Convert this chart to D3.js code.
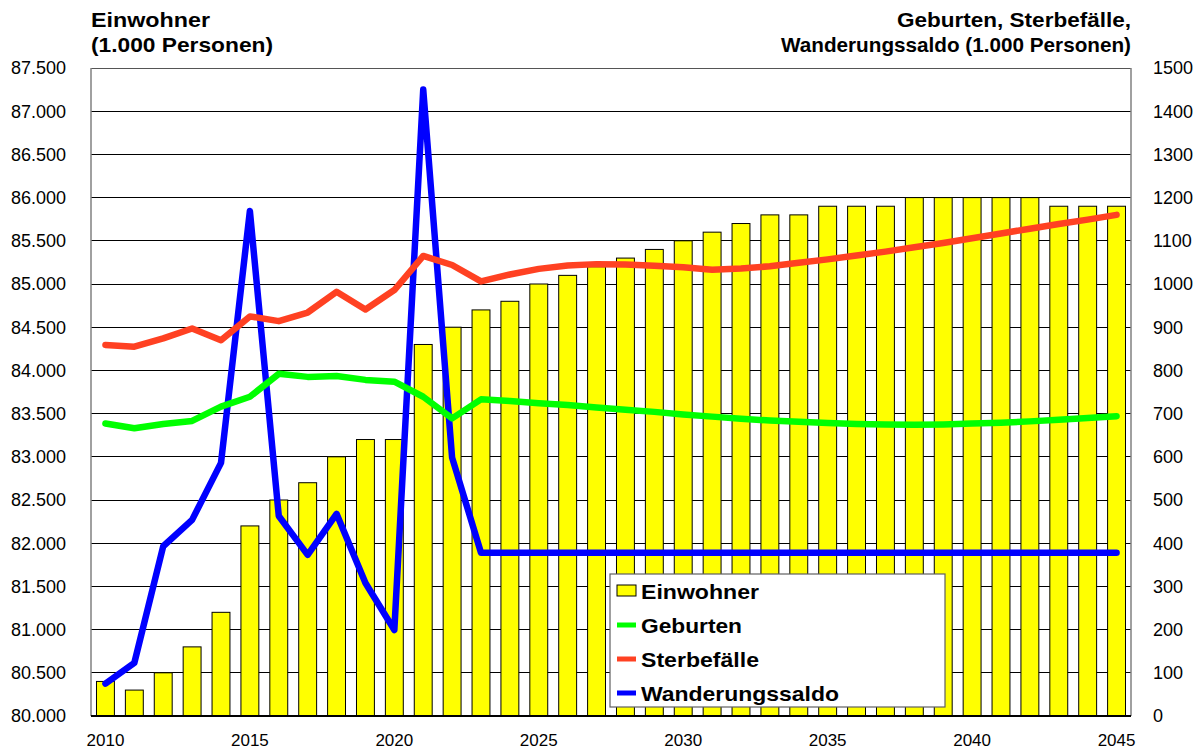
<!DOCTYPE html>
<html><head><meta charset="utf-8">
<script src="https://cdn.jsdelivr.net/npm/d3@7"></script>
<style>
html,body{margin:0;padding:0;background:#fff;}
svg{display:block;font-family:Arial,"Liberation Sans",sans-serif;}
</style></head>
<body>
<svg id="chart" width="1204" height="751"></svg>
<script>
const years = d3.range(2010, 2046);
const einwohner = [80400,80300,80500,80800,81200,82200,82500,82700,83000,83200,83200,84300,84500,84700,84800,85000,85100,85200,85300,85400,85500,85600,85700,85800,85800,85900,85900,85900,86000,86000,86000,86000,86000,85900,85900,85900];
const geburten = [677,666,676,683,716,739,792,785,787,778,774,739,689,733,729,724,720,714,709,704,698,693,688,684,681,678,676,675,674,675,677,679,682,686,690,694];
const sterbefaelle = [859,855,874,897,870,925,914,934,982,941,986,1065,1044,1006,1022,1035,1043,1046,1045,1042,1039,1033,1036,1041,1049,1057,1066,1075,1085,1095,1106,1117,1128,1139,1149,1160];
const wanderung = [75,123,393,454,586,1169,463,373,468,308,199,1450,598,378,378,378,378,378,378,378,378,378,378,378,378,378,378,378,378,378,378,378,378,378,378,378];
const leftTicks = d3.range(80000, 87501, 500);
const rightTicks = d3.range(0, 1501, 100);
const xLabelYears = [2010,2015,2020,2025,2030,2035,2040,2045];
const legendItems = ["Einwohner","Geburten","Sterbefälle","Wanderungssaldo"];
const colors = {Einwohner:"#FFFF00", Geburten:"#00FF00", "Sterbefälle":"#FF4122", Wanderungssaldo:"#0000FF"};

const L = 91, R = 1131, T = 68, B = 716;
const svg = d3.select("#chart");
const x = d3.scaleBand().domain(years).range([L, R]).paddingInner(0.38).paddingOuter(0.19);
const yL = d3.scaleLinear().domain([80000, 87500]).range([B, T]);
const yR = d3.scaleLinear().domain([0, 1500]).range([B, T]);
const cx = d => x(d) + x.bandwidth()/2;
const fmt = d3.formatLocale({decimal:",", thousands:".", grouping:[3], currency:["",""]}).format(",.0f");

// gridlines
svg.append("g").selectAll("line").data(leftTicks.slice(1)).join("line")
  .attr("x1", L).attr("x2", R).attr("y1", d => yL(d)).attr("y2", d => yL(d))
  .attr("stroke", "#000").attr("stroke-width", 1).attr("shape-rendering","crispEdges");

// bars
svg.append("g").selectAll("rect").data(years).join("rect")
  .attr("x", d => x(d)).attr("width", x.bandwidth())
  .attr("y", (d,i) => yL(einwohner[i])).attr("height", (d,i) => B - yL(einwohner[i]))
  .attr("fill", colors.Einwohner).attr("stroke", "#000").attr("stroke-width", 1);

// plot border
svg.append("line").attr("x1", L).attr("x2", R).attr("y1", T).attr("y2", T).attr("stroke", "#555").attr("shape-rendering","crispEdges");
svg.append("line").attr("x1", R).attr("x2", R).attr("y1", T).attr("y2", B).attr("stroke", "#808080").attr("stroke-width",1.5);
svg.append("line").attr("x1", L).attr("x2", L).attr("y1", T).attr("y2", B).attr("stroke", "#808080").attr("stroke-width",1.5);
svg.append("line").attr("x1", L).attr("x2", R).attr("y1", B).attr("y2", B).attr("stroke", "#000").attr("stroke-width",2);

// lines
const mk = arr => d3.line().x((d,i) => cx(years[i])).y(d => yR(d))(arr);
[[wanderung, colors.Wanderungssaldo, 6.5], [sterbefaelle, colors["Sterbefälle"], 6.5], [geburten, colors.Geburten, 6.5]].forEach(([arr, c, w]) => {
  svg.append("path").attr("d", mk(arr)).attr("fill", "none").attr("stroke", c)
    .attr("stroke-width", w).attr("stroke-linejoin", "round").attr("stroke-linecap", "round");
});

// left axis labels
svg.append("g").selectAll("text").data(leftTicks).join("text")
  .attr("x", 66).attr("y", d => yL(d)).attr("dy", "0.36em").attr("text-anchor", "end")
  .attr("font-size", "18px").attr("fill", "#000").text(d => fmt(d));
// right axis labels
svg.append("g").selectAll("text").data(rightTicks).join("text")
  .attr("x", 1153).attr("y", d => yR(d)).attr("dy", "0.36em").attr("text-anchor", "start")
  .attr("font-size", "18px").attr("fill", "#000").text(d => d);
// x labels
svg.append("g").selectAll("text").data(xLabelYears).join("text")
  .attr("x", d => cx(d)).attr("y", 746).attr("text-anchor", "middle")
  .attr("font-size", "17px").attr("fill", "#000").text(d => d);

// titles
function bold(x0, y0, anchor, str, len) {
  svg.append("text").attr("x", x0).attr("y", y0).attr("text-anchor", anchor)
    .attr("font-size", "21px").attr("font-weight", "bold")
    .attr("textLength", len).attr("lengthAdjust", "spacingAndGlyphs").text(str);
}
bold(91, 27, "start", "Einwohner", 119);
bold(91, 52, "start", "(1.000 Personen)", 182);
bold(1131, 27, "end", "Geburten, Sterbefälle,", 234);
bold(1131, 52, "end", "Wanderungssaldo (1.000 Personen)", 350);

// legend
const lg = svg.append("g");
lg.append("rect").attr("x", 610).attr("y", 574).attr("width", 335).attr("height", 133)
  .attr("fill", "#fff").attr("stroke", "#606060").attr("stroke-width", 1.2);
const rowY = [591, 625, 659, 693];
const legLen = [118, 101, 118, 198];
legendItems.forEach((name, i) => {
  const yy = rowY[i];
  if (i === 0) {
    lg.append("rect").attr("x", 617).attr("y", yy - 6).attr("width", 19).attr("height", 11)
      .attr("fill", colors[name]).attr("stroke", "#000").attr("stroke-width", 1);
  } else {
    lg.append("line").attr("x1", 617).attr("x2", 636).attr("y1", yy).attr("y2", yy)
      .attr("stroke", colors[name]).attr("stroke-width", 5);
  }
  lg.append("text").attr("x", 641).attr("y", yy).attr("dy", "0.36em")
    .attr("font-size", "21px").attr("font-weight", "bold")
    .attr("textLength", legLen[i]).attr("lengthAdjust", "spacingAndGlyphs").text(name);
});
</script>
</body></html>
